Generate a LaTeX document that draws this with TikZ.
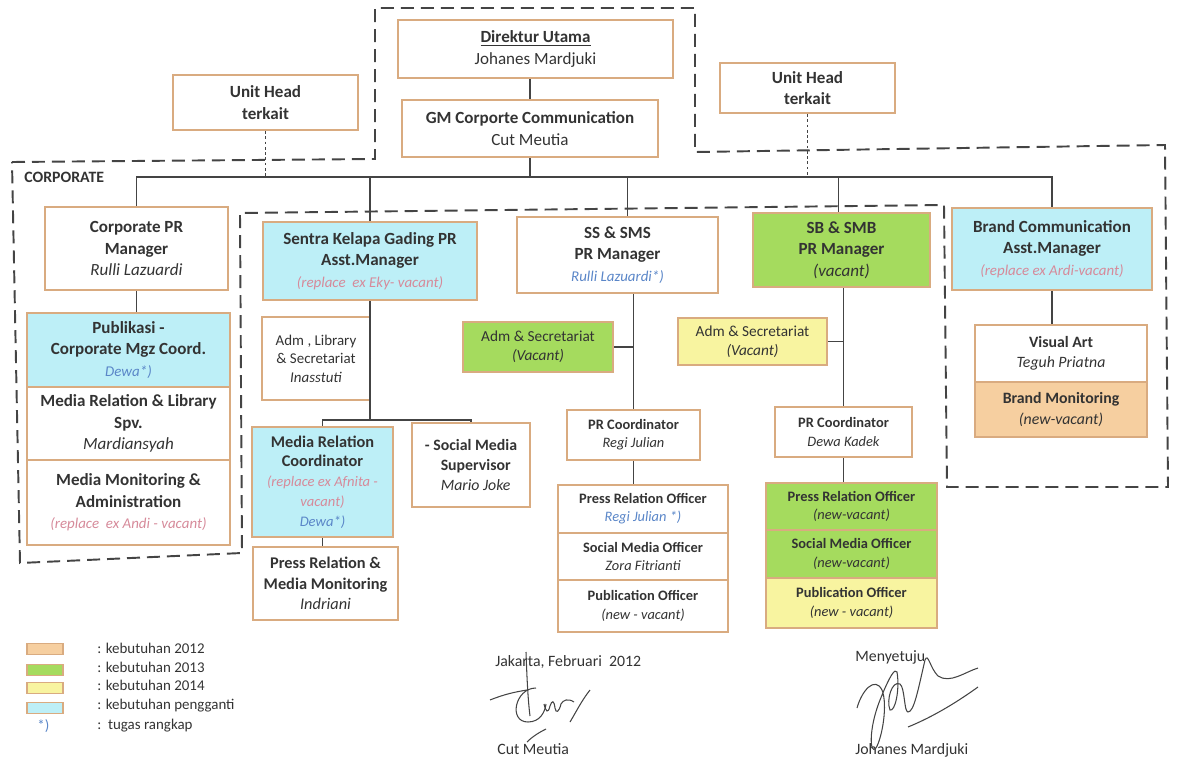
\documentclass[tikz,border=0pt]{standalone}
\usepackage{fontspec}
\setmainfont{Carlito}
\usetikzlibrary{calc}
\definecolor{bord}{HTML}{D9AB80}
\definecolor{tx}{HTML}{333333}
\definecolor{cyanf}{HTML}{BDEFF7}
\definecolor{greenf}{HTML}{A5DB5E}
\definecolor{yellowf}{HTML}{F8F4A0}
\definecolor{orangef}{HTML}{F6CFA0}
\definecolor{blu}{HTML}{5A86C8}
\definecolor{pnk}{HTML}{D68A9A}
\definecolor{lin}{HTML}{444444}
\newcommand\orgbox[7]{\node[#6, minimum width={((#4)-(#2))*0.02cm}, minimum height={((#5)-(#3))*0.02cm}] (#1) at ({((#2)+(#4))/2},{((#3)+(#5))/2}) {#7};}
\newcommand\nmi[1]{{\itshape #1}}
\newcommand\bli[1]{{\color{blu}\itshape #1}}
\newcommand\pki[1]{{\color{pnk}\itshape #1}}
\begin{document}
\begin{tikzpicture}[x=0.02cm,y=-0.02cm,
  box/.style={draw=bord, line width=1.2pt, text=tx, align=center, inner sep=1pt, font=\fontsize{9.7}{12.2}\selectfont},
  sbox/.style={box, font=\fontsize{8.2}{10.4}\selectfont},
  conn/.style={draw=lin, line width=0.7pt},
  dotl/.style={draw=lin, line width=0.7pt, dash pattern=on 1.5pt off 1.5pt},
  region/.style={draw=lin, line width=1.1pt, dash pattern=on 0.26cm off 0.14cm},
  sig/.style={draw=lin, line width=0.6pt},
  swatch/.style={draw=bord, line width=1pt},
  lbl/.style={text=tx, anchor=west, inner sep=0pt, font=\fontsize{8.5}{10}\selectfont}]
\useasboundingbox (0,0) rectangle (1177,761);

% dashed region outline
\draw[region] (12,162) -- (375,159) -- (375,8) -- (695,8) -- (695,152) -- (1165,145) -- (1168,487) -- (947,487) -- (944,205) -- (240,213) -- (242,553) -- (20,563) -- cycle;
\node[anchor=west, text=tx, inner sep=0pt, font=\fontsize{9}{10}\selectfont\bfseries] (corp) at (24,177) {CORPORATE};

% top
\orgbox{dir}{398}{20}{673}{78}{box}{\textbf{\underline{Direktur Utama}}\\Johanes Mardjuki}
\orgbox{gm}{402}{100}{658}{157}{box}{\textbf{GM Corporte Communication}\\Cut Meutia}
\orgbox{uh1}{173}{75}{358}{130}{box}{\textbf{Unit Head}\\\textbf{terkait}}
\orgbox{uh2}{720}{63}{895}{113}{box}{\textbf{Unit Head}\\\textbf{terkait}}

% managers
\orgbox{cpm}{45}{207}{228}{290}{box}{\textbf{Corporate PR}\\\textbf{Manager}\\\nmi{Rulli Lazuardi}}
\orgbox{skg}{263}{222}{477}{300}{box,fill=cyanf}{\textbf{Sentra Kelapa Gading PR}\\\textbf{Asst.Manager}\\{\fontsize{8.5}{11}\selectfont\pki{(replace\ \ ex Eky- vacant)}}}
\orgbox{ss}{517}{217}{718}{293}{box}{\textbf{SS \& SMS}\\\textbf{PR Manager}\\{\fontsize{8.5}{11}\selectfont\bli{Rulli Lazuardi*)}}}
\orgbox{sb}{753}{213}{930}{287}{box,fill=greenf}{\textbf{SB \& SMB}\\\textbf{PR Manager}\\\nmi{(vacant)}}
\orgbox{bc}{952}{208}{1152}{290}{box,fill=cyanf}{\textbf{Brand Communication}\\\textbf{Asst.Manager}\\{\fontsize{8.5}{11}\selectfont\pki{(replace ex Ardi-vacant)}}}

% left column
\orgbox{pub}{27}{313}{230}{387}{box,fill=cyanf}{\textbf{Publikasi -}\\\textbf{Corporate Mgz Coord.}\\{\fontsize{8.5}{11}\selectfont\bli{Dewa*)}}}
\orgbox{mrl}{27}{387}{230}{460}{box}{\textbf{Media Relation \& Library}\\\textbf{Spv.}\\\nmi{Mardiansyah}}
\orgbox{mma}{27}{460}{230}{545}{box}{\textbf{Media Monitoring \&}\\\textbf{Administration}\\{\fontsize{8.5}{11}\selectfont\pki{(replace\ \ ex Andi - vacant)}}}

% SKG branch
\orgbox{adm3}{262}{317}{370}{400}{sbox,font=\fontsize{8.5}{10.6}\selectfont}{Adm , Library\\\& Secretariat\\\nmi{Inasstuti}}
\orgbox{mrc}{252}{427}{393}{537}{sbox,fill=cyanf,font=\fontsize{9.3}{11.3}\selectfont}{\textbf{Media Relation}\\\textbf{Coordinator}\\{\fontsize{8.3}{11.3}\selectfont\pki{(replace ex Afnita -}}\\{\fontsize{8.3}{11.3}\selectfont\pki{vacant)}}\\{\fontsize{8.3}{11.3}\selectfont\bli{Dewa*)}}}
\orgbox{sms}{412}{423}{530}{507}{sbox,align=left,font=\fontsize{9}{11.3}\selectfont}{\textbf{- Social Media}\\\hspace*{1em}\textbf{Supervisor}\\\hspace*{1em}\nmi{Mario Joke}}
\orgbox{prmm}{253}{547}{398}{620}{sbox,font=\fontsize{9.3}{11.5}\selectfont}{\textbf{Press Relation \&}\\\textbf{Media Monitoring}\\\nmi{Indriani}}

% SS & SMS branch
\orgbox{adm1}{463}{322}{613}{372}{sbox,fill=greenf,font=\fontsize{8.7}{11}\selectfont}{Adm \& Secretariat\\\nmi{(Vacant)}}
\orgbox{prc}{567}{410}{700}{460}{sbox}{\textbf{PR Coordinator}\\\nmi{Regi Julian}}
\orgbox{pro1}{558}{485}{728}{533}{sbox}{\textbf{Press Relation Officer}\\\bli{Regi Julian *)}}
\orgbox{smo1}{558}{533}{728}{580}{sbox}{\textbf{Social Media Officer}\\\nmi{Zora Fitrianti}}
\orgbox{pub1}{558}{580}{728}{632}{sbox}{\textbf{Publication Officer}\\\nmi{(new - vacant)}}

% SB & SMB branch
\orgbox{adm2}{678}{318}{827}{365}{sbox,fill=yellowf,font=\fontsize{8.7}{11}\selectfont}{Adm \& Secretariat\\\nmi{(Vacant)}}
\orgbox{prc2}{775}{407}{912}{457}{sbox}{\textbf{PR Coordinator}\\\nmi{Dewa Kadek}}
\orgbox{pro2}{766}{483}{937}{530}{sbox,fill=greenf}{\textbf{Press Relation Officer}\\\nmi{(new-vacant)}}
\orgbox{smo2}{766}{530}{937}{578}{sbox,fill=greenf}{\textbf{Social Media Officer}\\\nmi{(new-vacant)}}
\orgbox{pub2}{766}{578}{937}{628}{sbox,fill=yellowf}{\textbf{Publication Officer}\\\nmi{(new - vacant)}}

% Brand branch
\orgbox{va}{975}{325}{1147}{382}{sbox,font=\fontsize{9}{11.5}\selectfont}{\textbf{Visual Art}\\\nmi{Teguh Priatna}}
\orgbox{bm}{975}{382}{1147}{437}{sbox,fill=orangef,font=\fontsize{9}{11.5}\selectfont}{\textbf{Brand Monitoring}\\\nmi{(new-vacant)}}

% connectors top
\draw[conn] (gm.north) -- (gm.north |- dir.south);
\coordinate (bus) at (gm.south |- 0,177);
\draw[conn] (gm.south) -- (bus);
\draw[conn] (cpm.north) |- (bus);
\draw[conn] (bc.north) |- (bus);
\draw[conn] (skg.north) -- (skg.north |- bus);
\draw[conn] ([xshift=0.2cm]ss.north) -- ([xshift=0.2cm]ss.north |- bus);
\draw[conn] ([xshift=-0.06cm]sb.north) -- ([xshift=-0.06cm]sb.north |- bus);
\draw[dotl] (uh1.south) -- (uh1.south |- bus);
\draw[dotl] (uh2.south) -- (uh2.south |- bus);

% left column
\draw[conn] (cpm.south) -- (cpm.south |- pub.north);

% SKG
\coordinate (skgbus) at (skg.south |- 0,420);
\draw[conn] (skg.south) -- (skgbus);
\draw[conn] (mrc.north) |- (skgbus);
\draw[conn] (sms.north) |- (skgbus);
\draw[conn] (adm3.east) -- (adm3.east -| skg.south);
\draw[conn] (mrc.south) -- (mrc.south |- prmm.north);

% SS
\draw[conn] (prc.north) -- (prc.north |- ss.south);
\draw[conn] (adm1.east) -- (adm1.east -| prc.north);
\draw[conn] (prc.south) -- (prc.south |- pro1.north);

% SB
\draw[conn] (prc2.north) -- (prc2.north |- sb.south);
\draw[conn] (adm2.east) -- (adm2.east -| prc2.north);
\draw[conn] (prc2.south) -- (prc2.south |- pro2.north);

% Brand
\draw[conn] (bc.south) -- (bc.south |- va.north);

% legend
\node[swatch, fill=orangef, minimum width=0.72cm, minimum height=0.22cm, inner sep=0pt] (sw1) at (45,649) {};
\node[swatch, fill=greenf, minimum width=0.72cm, minimum height=0.22cm, inner sep=0pt] (sw2) at (45,670) {};
\node[swatch, fill=yellowf, minimum width=0.72cm, minimum height=0.22cm, inner sep=0pt] (sw3) at (45,688) {};
\node[swatch, fill=cyanf, minimum width=0.72cm, minimum height=0.22cm, inner sep=0pt] (sw4) at (45,708) {};
\node[lbl, text=blu] (sw5) at (37,726) {*)};
\node[lbl] (l1) at (97,648) {: kebutuhan 2012};
\node[lbl] (l2) at (97,667) {: kebutuhan 2013};
\node[lbl] (l3) at (97,685) {: kebutuhan 2014};
\node[lbl] (l4) at (97,706) {: kebutuhan pengganti};
\node[lbl] (l5) at (97,726) {:\ \ tugas rangkap};

% signatures
\node[lbl, font=\fontsize{9}{10}\selectfont] (jkt) at (495,662) {Jakarta, Februari\ \ 2012};
\node[lbl, font=\fontsize{9}{10}\selectfont] (cm) at (497,749) {Cut Meutia};
\node[lbl, font=\fontsize{9}{10}\selectfont] (meny) at (855,657) {Menyetuju};
\node[lbl, font=\fontsize{9}{10}\selectfont] (jm) at (855,750) {Johanes Mardjuki};

\draw[sig] (490,700) .. controls (505,694) and (515,692) .. (527,690);
\draw[sig] (526,652) .. controls (527,680) and (528,700) .. (530,716);
\draw[sig] (536,688) .. controls (515,688) and (508,722) .. (528,722) .. controls (540,722) and (545,712) .. (546,704);
\draw[sig] (544,704) .. controls (546,712) and (548,714) .. (550,706) .. controls (552,700) and (554,700) .. (555,708) .. controls (556,714) and (559,712) .. (561,704) .. controls (563,700) and (568,698) .. (574,702);
\draw[sig] (570,722) .. controls (576,712) and (582,700) .. (590,690);
\draw[sig] (527,742) .. controls (533,736) and (540,732) .. (546,729);

\draw[sig] (857,708) .. controls (862,690) and (875,676) .. (882,690) .. controls (888,705) and (882,738) .. (876,748) .. controls (870,756) and (868,730) .. (880,700) .. controls (890,675) and (895,668) .. (897,672) .. controls (900,690) and (895,712) .. (890,710) .. controls (886,700) and (892,680) .. (900,684) .. controls (905,688) and (904,712) .. (908,712) .. controls (914,712) and (918,690) .. (925,660) .. controls (928,652) and (930,668) .. (938,676) .. controls (950,684) and (965,672) .. (978,668);
\draw[sig] (908,727) .. controls (935,716) and (960,700) .. (978,687);
\end{tikzpicture}
\end{document}
